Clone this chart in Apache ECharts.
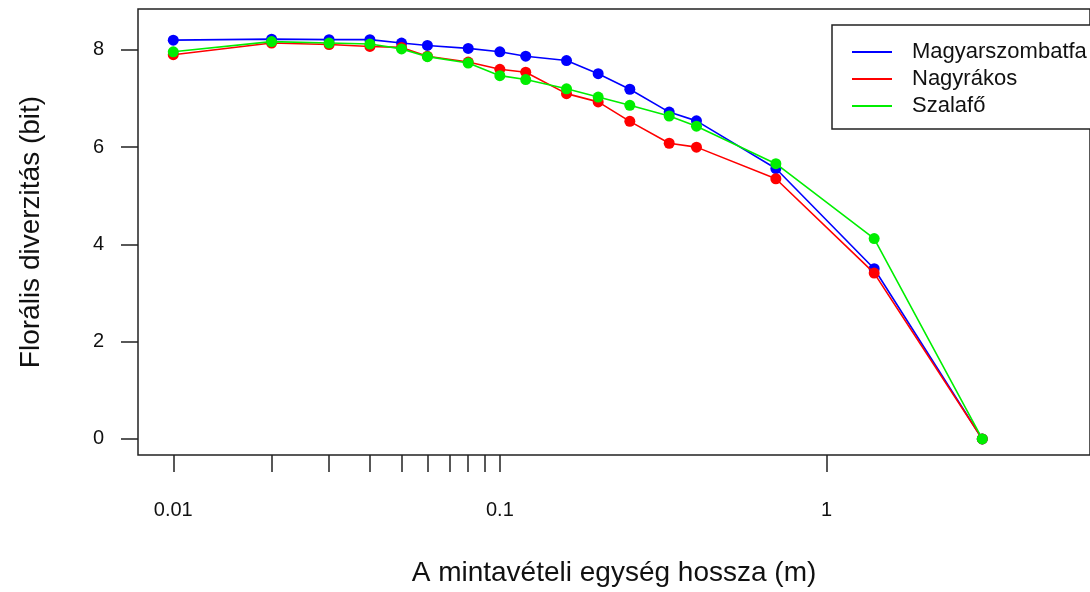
<!DOCTYPE html>
<html>
<head>
<meta charset="utf-8">
<script src="https://cdn.jsdelivr.net/npm/echarts@6/dist/echarts.min.js"></script>
<style>
html,body{margin:0;padding:0;background:#fff;}
#chart{width:1090px;height:592px;}
</style>
</head>
<body>
<div id="chart"></div>
<script>
// sampling unit length (m)
const lengths = [0.01, 0.02, 0.03, 0.04, 0.05, 0.06, 0.08, 0.1, 0.12, 0.16, 0.2, 0.25, 0.33, 0.4, 0.7, 1.4, 3];
const magyarszombatfa = [8.20, 8.22, 8.21, 8.21, 8.14, 8.09, 8.03, 7.96, 7.87, 7.78, 7.51, 7.19, 6.72, 6.54, 5.56, 3.50, 0];
const nagyrakos       = [7.90, 8.14, 8.11, 8.07, 8.05, 7.87, 7.75, 7.60, 7.54, 7.10, 6.93, 6.53, 6.08, 6.00, 5.35, 3.41, 0];
const szalafo         = [7.96, 8.17, 8.14, 8.12, 8.02, 7.86, 7.73, 7.47, 7.39, 7.20, 7.03, 6.86, 6.64, 6.43, 5.66, 4.12, 0];
const seriesNames = ['Magyarszombatfa', 'Nagyrákos', 'Szalafő'];
const xTickValues = [0.01, 0.02, 0.03, 0.04, 0.05, 0.06, 0.07, 0.08, 0.09, 0.1, 1];
const xLabelValues = [0.01, 0.1, 1];
const yTickValues = [0, 2, 4, 6, 8];

const FONT = '"Liberation Sans", Arial, sans-serif';
const colors = ['#0000ff', '#ff0000', '#00ee00'];
const lg = v => Math.log10(v);
const mk = arr => lengths.map((x, i) => [lg(x), arr[i]]);

const chart = echarts.init(document.getElementById('chart'), null, {renderer: 'canvas'});
const seriesData = [magyarszombatfa, nagyrakos, szalafo];
chart.setOption({
  animation: false,
  backgroundColor: '#ffffff',
  textStyle: {fontFamily: FONT},
  grid: {left: 138, top: 9, right: -7, bottom: 133, show: true, borderColor: '#222', borderWidth: 1.5, backgroundColor: 'transparent'},
  xAxis: {
    type: 'value',
    min: -2.108, max: 0.807,
    axisLine: {show: false, onZero: false},
    splitLine: {show: false},
    axisTick: {show: true, inside: false, length: 17, lineStyle: {color: '#222', width: 1.5}, customValues: xTickValues.map(lg)},
    axisLabel: {
      customValues: xLabelValues.map(lg),
      margin: 45, fontSize: 20, color: '#111', fontFamily: FONT,
      formatter: v => {
        const p = Math.round(v);
        return String(Math.pow(10, p).toFixed(Math.max(0, -p)));
      }
    },
    name: 'A mintavételi egység hossza (m)',
    nameLocation: 'middle', nameGap: 104,
    nameTextStyle: {fontSize: 28, color: '#111', fontFamily: FONT}
  },
  yAxis: {
    type: 'value',
    min: -0.33, max: 8.84,
    axisLine: {show: false, onZero: false},
    splitLine: {show: false},
    axisTick: {show: true, inside: false, length: 17, lineStyle: {color: '#222', width: 1.5}, customValues: yTickValues},
    axisLabel: {customValues: yTickValues, margin: 34, fontSize: 20, color: '#111', fontFamily: FONT},
    name: 'Florális diverzitás (bit)',
    nameLocation: 'middle', nameGap: 93, nameRotate: 90,
    nameTextStyle: {fontSize: 28, color: '#111', fontFamily: FONT}
  },
  legend: {
    orient: 'vertical',
    left: 832, top: 25,
    icon: 'rect', itemWidth: 40, itemHeight: 2, itemGap: 5,
    padding: [16, 20, 12, 20],
    borderColor: '#222', borderWidth: 1.5, backgroundColor: '#fff',
    data: seriesNames,
    formatter: n => '{t|' + n + '}',
    textStyle: {fontSize: 22, color: '#111', fontFamily: FONT,
      rich: {t: {fontSize: 22, color: '#111', fontFamily: FONT, padding: [0, 0, 0, 15]}}}
  },
  series: seriesNames.map((name, i) => ({
    name: name,
    type: 'line',
    data: mk(seriesData[i]),
    color: colors[i],
    symbol: 'circle',
    symbolSize: 11,
    showAllSymbol: true,
    lineStyle: {width: 1.6, color: colors[i]},
    itemStyle: {color: colors[i]},
    z: 2 + i
  }))
});
</script>
</body>
</html>
